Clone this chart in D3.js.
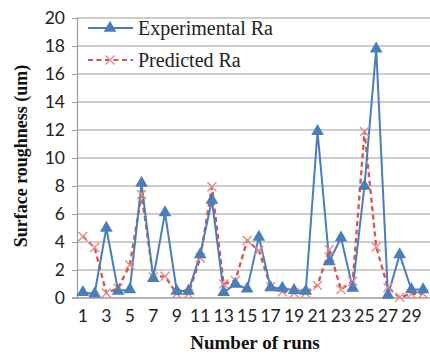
<!DOCTYPE html>
<html><head><meta charset="utf-8">
<script src="https://cdn.jsdelivr.net/npm/d3@7"></script>
<style>
body{margin:0;background:#fff;}
svg{display:block;}
</style></head>
<body><svg id="c" width="430" height="355"></svg>
<script>
const runs = d3.range(1, 31);
const experimental = [0.4,0.3,5.0,0.5,0.6,8.2,1.4,6.1,0.5,0.5,3.1,7.0,0.4,1.0,0.65,4.35,0.75,0.7,0.55,0.5,11.9,2.6,4.3,0.7,8.0,17.8,0.2,3.1,0.6,0.6];
const predicted = [4.4,3.6,0.35,0.7,2.35,7.4,1.5,1.55,0.3,0.3,2.85,7.95,1.0,1.25,4.1,3.4,0.8,0.45,0.35,0.35,0.9,3.45,0.6,1.2,11.9,3.65,0.75,0.05,0.3,0.3];
const yTicks = d3.range(0, 21, 2);
const xTickLabels = runs.filter(d => d % 2 === 1);
const seriesNames = ["Experimental Ra", "Predicted Ra"];

const svg = d3.select("#c");
const L = 77, R = 429, T = 18, B = 298;
const x = d3.scaleBand().domain(runs).range([L, R]).padding(0);
const y = d3.scaleLinear().domain([0, 20]).range([B, T]);
const cx = d => x(d) + x.bandwidth() / 2;
const sans = "Lato, 'Open Sans', sans-serif";
const serif = "'Liberation Serif', 'Times New Roman', serif";

// gridlines
svg.append("g").selectAll("line").data(yTicks.filter(d => d > 0)).join("line")
  .attr("x1", L).attr("x2", R + 1).attr("y1", d => y(d)).attr("y2", d => y(d))
  .attr("stroke", "#bdbdbd").attr("stroke-width", 1.6);

// y axis
const yAxis = svg.append("g").attr("transform", `translate(${L},0)`)
  .call(d3.axisLeft(y).tickValues(yTicks).tickSize(5).tickPadding(7));
yAxis.select(".domain").attr("stroke", "#9a9a9a").attr("stroke-width", 1.2);
yAxis.selectAll(".tick line").attr("stroke", "#9a9a9a");
yAxis.selectAll("text").attr("font-family", sans).attr("font-size", 17.5).attr("fill", "#222");

// x axis
const xAxis = svg.append("g").attr("transform", `translate(0,${B})`)
  .call(d3.axisBottom(x).tickValues(xTickLabels).tickSize(0).tickPadding(12));
xAxis.select(".domain").attr("stroke", "#9a9a9a").attr("stroke-width", 1.6).attr("d", `M${L-5},0H${R+1}`);
xAxis.selectAll("text").attr("font-family", sans).attr("font-size", 17.5).attr("fill", "#222");

// lines
const line = d3.line().x((d, i) => cx(runs[i])).y(d => y(d));
const blue = "#4a7ebb", red = "#d9534f";
svg.append("path").datum(predicted).attr("d", line).attr("fill", "none")
  .attr("stroke", red).attr("stroke-width", 2.3).attr("stroke-dasharray", "5,3.5");
svg.append("path").datum(experimental).attr("d", line).attr("fill", "none")
  .attr("stroke", blue).attr("stroke-width", 2);

const tri = d3.symbol().type(d3.symbolTriangle).size(70);
function xMark(g, px, py, s) {
  g.append("path").attr("d", `M${px-s},${py-s}L${px+s},${py+s}M${px-s},${py+s}L${px+s},${py-s}`)
    .attr("stroke", "#e88a88").attr("stroke-width", 1.4).attr("fill", "none");
}
const gx = svg.append("g");
predicted.forEach((v, i) => xMark(gx, cx(runs[i]), y(v), 4.5));
svg.append("g").selectAll("path").data(experimental).join("path")
  .attr("d", tri).attr("transform", (d, i) => `translate(${cx(runs[i])},${y(d)})`)
  .attr("fill", blue);

// legend
const lg = svg.append("g");
const ly = [28, 60];
lg.append("line").attr("x1", 88).attr("x2", 133).attr("y1", ly[0]).attr("y2", ly[0]).attr("stroke", blue).attr("stroke-width", 2);
lg.append("path").attr("d", tri).attr("transform", `translate(110,${ly[0]})`).attr("fill", blue);
lg.append("line").attr("x1", 88).attr("x2", 133).attr("y1", ly[1]).attr("y2", ly[1]).attr("stroke", red).attr("stroke-width", 2).attr("stroke-dasharray", "5,3.5");
xMark(lg, 110, ly[1], 4.5);
lg.selectAll("text").data(seriesNames).join("text")
  .attr("x", 138).attr("y", (d, i) => ly[i] + 7)
  .attr("font-family", serif).attr("font-size", 20).attr("fill", "#222")
  .text(d => d);

// titles
svg.append("text").attr("x", 255).attr("y", 349)
  .attr("text-anchor", "middle").attr("font-family", serif).attr("font-weight", "bold")
  .attr("font-size", 19).attr("fill", "#111").text("Number of runs");
svg.append("text").attr("transform", "translate(27,156) rotate(-90)")
  .attr("text-anchor", "middle").attr("font-family", serif).attr("font-weight", "bold")
  .attr("font-size", 18).attr("fill", "#111").text("Surface roughness (um)");
</script></body></html>
